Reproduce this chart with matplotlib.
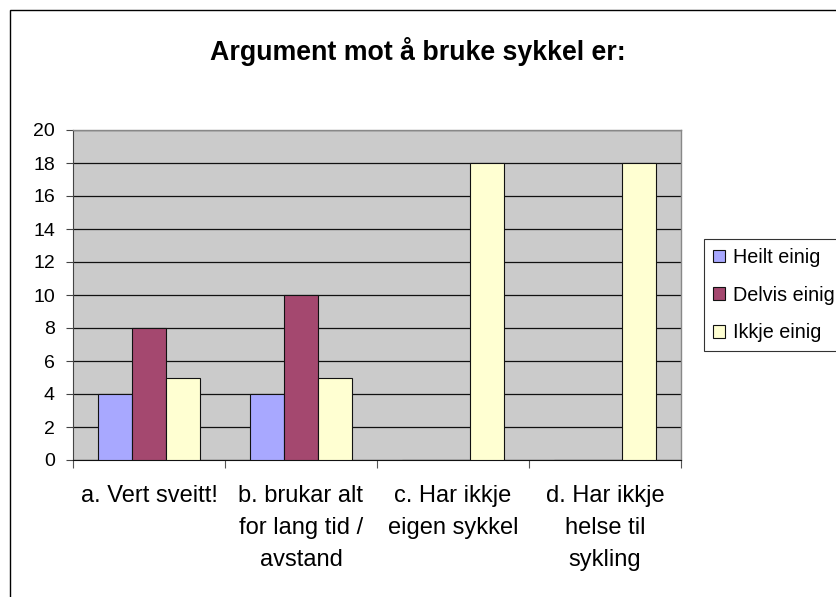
import matplotlib
matplotlib.use("Agg")
import matplotlib.pyplot as plt
import numpy as np
from matplotlib.patches import Rectangle

categories = ["a. Vert sveitt!", "b. brukar alt\nfor lang tid /\navstand",
              "c. Har ikkje\neigen sykkel", "d. Har ikkje\nhelse til\nsykling"]
series_names = ["Heilt einig", "Delvis einig", "Ikkje einig"]
heilt = [4, 4, 0, 0]
delvis = [8, 10, 0, 0]
ikkje = [5, 5, 18, 18]
yticks = list(range(0, 21, 2))

colors = ["#A8A8FF", "#A4486F", "#FFFFD2"]

plt.rcParams['font.family'] = ['Liberation Sans', 'DejaVu Sans']

fig = plt.figure(figsize=(8.36, 5.97), dpi=100)
ax = fig.add_axes([73/836, 1-460/597, (681-73)/836, (460-130)/597])
ax.set_facecolor("#CBCBCB")

x = np.arange(len(categories))
w = 1/4.5
for i, (vals, c, n) in enumerate(zip([heilt, delvis, ikkje], colors, series_names)):
    ax.bar(x + (i-1)*w, vals, width=w, color=c, edgecolor="#111111", linewidth=0.8,
           label=n, zorder=3)

ax.set_xlim(-0.5, len(categories)-0.5)
ax.set_ylim(0, 20)
ax.set_yticks(yticks)
ax.set_yticklabels([str(v) for v in yticks], fontsize=14)
ax.yaxis.grid(True, color="#111111", linewidth=0.9, zorder=1)
ax.set_axisbelow(True)

ax.set_xticks(np.arange(-0.5, len(categories)), minor=False)
ax.set_xticklabels([])
ax.set_xticks(x, minor=True)
ax.set_xticklabels(categories, minor=True, fontsize=17, linespacing=1.58, va='top')
ax.tick_params(axis='x', which='minor', length=0, pad=18)
ax.tick_params(axis='x', which='major', length=6, direction='out', color="#555555")
ax.tick_params(axis='y', length=5, direction='out', color="#444444", pad=8)

for s in ['top', 'right']:
    ax.spines[s].set_color("#888888")
    ax.spines[s].set_linewidth(1.0)
ax.spines['left'].set_color("#444444")
ax.spines['bottom'].set_color("#111111")

fig.text(418/836, 1-52/597, "Argument mot å bruke sykkel er:", fontsize=19.3,
         fontweight='bold', ha='center', va='center')

leg = fig.legend(loc='upper left', bbox_to_anchor=(704/836, 1-239/597), fontsize=14.2,
                 frameon=True, fancybox=False, edgecolor='black', handlelength=0.62,
                 handleheight=0.62, handletextpad=0.42, borderaxespad=0, labelspacing=0.95,
                 borderpad=0.45)
leg.get_frame().set_linewidth(0.8)

fig.patches.append(Rectangle((10/836, -0.1), 1.2, 1-10/597+0.1, transform=fig.transFigure,
                             fill=False, edgecolor='black', linewidth=1.0))

fig.savefig("out.png", dpi=100)
